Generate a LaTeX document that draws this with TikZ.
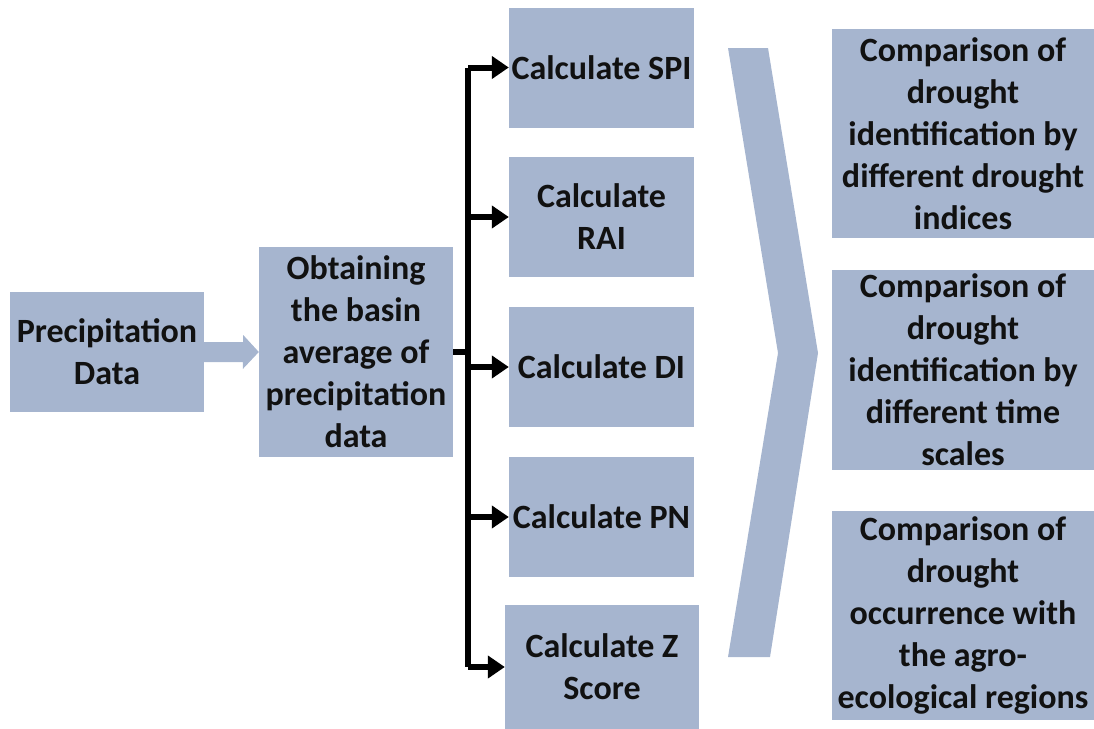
\documentclass[tikz,border=0pt]{standalone}
\usepackage{fontspec}
\setmainfont{Carlito}
\usetikzlibrary{arrows.meta}
\definecolor{boxfill}{RGB}{166,181,207}
\definecolor{ink}{RGB}{17,17,17}
\begin{document}
\begin{tikzpicture}[x=1pt,y=-1pt,
  box/.style={fill=boxfill, draw=none, inner sep=0pt, align=center, text=ink,
    font=\fontsize{34}{42}\selectfont\bfseries},
  bus/.style={line width=6pt, draw=black},
  tip/.style={bus, -{Triangle[length=17pt,width=22pt]}}]
\useasboundingbox (0,0) rectangle (1094,728);

% first column
\node[box, minimum width=194pt, minimum height=120pt] (prec) at (107,352) {Precipitation\\Data};
\node[box, minimum width=194pt, minimum height=210pt] (obt) at (356,352)
  {Obtaining\\the basin\\average of\\precipitation\\data};

% block arrow between the first two boxes
\fill[boxfill] (prec.east) ++(0,-10) -- ++(39,0) -- ++(0,-7) -- (obt.west)
  -- ++(-16,17) -- ++(0,-7) -- ++(-39,0) -- cycle;

% index calculations
\node[box, minimum width=185pt, minimum height=120pt] (spi) at (601.5,67.5) {Calculate SPI};
\node[box, minimum width=185pt, minimum height=120pt] (rai) at (601.5,217) {Calculate\\RAI};
\node[box, minimum width=185pt, minimum height=120pt] (di)  at (601.5,367) {Calculate DI};
\node[box, minimum width=185pt, minimum height=120pt] (pn)  at (601.5,517) {Calculate PN};
\node[box, minimum width=194pt, minimum height=124pt] (zs)  at (602,667) {Calculate Z\\Score};

% distribution bus
\draw[bus] (obt.east) -- ++(15,0) coordinate (hub);
\draw[bus] (hub |- spi.west) -- (hub |- zs.west);
\foreach \t in {spi,rai,di,pn,zs}
  \draw[tip] (hub |- \t.west) -- (\t.west);

% chevron
\fill[boxfill] (728,48) -- (768,48) -- (818,353) -- (770,657) -- (728,657) -- (778,353) -- cycle;

% comparisons
\node[box, minimum width=262pt, minimum height=209pt] (c1) at (963,133.5)
  {Comparison of\\drought\\identification by\\different drought\\indices};
\node[box, minimum width=262pt, minimum height=200pt] (c2) at (963,370)
  {Comparison of\\drought\\identification by\\different time\\scales};
\node[box, minimum width=262pt, minimum height=209pt] (c3) at (963,615.5)
  {Comparison of\\drought\\occurrence with\\the agro-\\ecological regions};
\end{tikzpicture}
\end{document}
